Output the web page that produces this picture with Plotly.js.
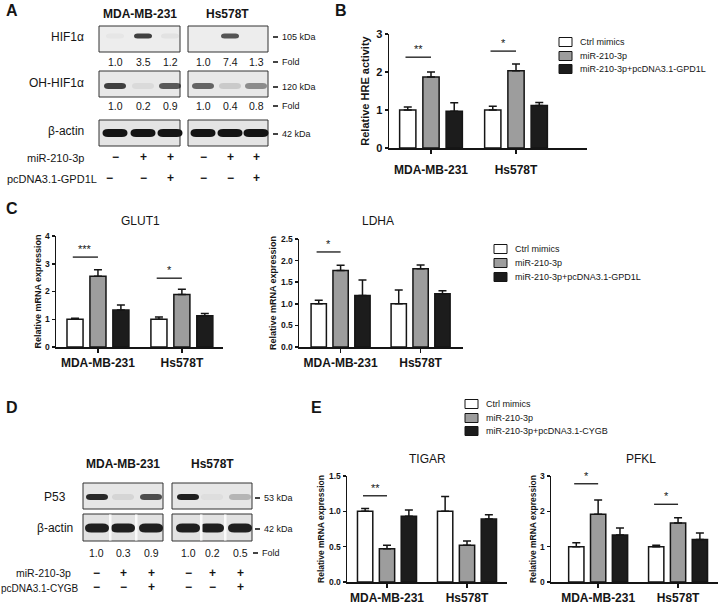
<!DOCTYPE html>
<html><head><meta charset="utf-8">
<script src="https://cdn.plot.ly/plotly-3.0.1.min.js"></script>
<style>html,body{margin:0;padding:0;background:#fff}#chart{width:718px;height:607px}</style>
</head><body><div id="chart"></div>
<script>
// ---------- data ----------
const cellLines = ['MDA-MB-231', 'Hs578T'];
const groupsGPD1L = ['Ctrl mimics', 'miR-210-3p', 'miR-210-3p+pcDNA3.1-GPD1L'];
const groupsCYGB = ['Ctrl mimics', 'miR-210-3p', 'miR-210-3p+pcDNA3.1-CYGB'];

// B: relative HRE activity  [MDA-MB-231, Hs578T]
const hreCtrl = [1.00, 1.00], hreCtrlErr = [0.08, 0.10];
const hreMiR  = [1.87, 2.03], hreMiRErr  = [0.13, 0.18];
const hreRes  = [0.97, 1.12], hreResErr  = [0.22, 0.08];
const hreSigCat = [0, 1], hreSigLevel = [2.39, 2.55], hreSigText = ['**', '*'];

// C: GLUT1
const glutCtrl = [1.00, 1.00], glutCtrlErr = [0.04, 0.08];
const glutMiR  = [2.55, 1.89], glutMiRErr  = [0.23, 0.19];
const glutRes  = [1.33, 1.13], glutResErr  = [0.18, 0.08];
const glutSigCat = [0, 1], glutSigLevel = [3.24, 2.48], glutSigText = ['***', '*'];

// C: LDHA
const ldhaCtrl = [1.00, 1.00], ldhaCtrlErr = [0.08, 0.32];
const ldhaMiR  = [1.77, 1.81], ldhaMiRErr  = [0.12, 0.09];
const ldhaRes  = [1.19, 1.23], ldhaResErr  = [0.36, 0.07];
const ldhaSigCat = [0], ldhaSigLevel = [2.2], ldhaSigText = ['*'];

// E: TIGAR
const tigCtrl = [1.00, 1.00], tigCtrlErr = [0.04, 0.21];
const tigMiR  = [0.47, 0.52], tigMiRErr  = [0.05, 0.06];
const tigRes  = [0.93, 0.89], tigResErr  = [0.09, 0.06];
const tigSigCat = [0], tigSigLevel = [1.22], tigSigText = ['**'];

// E: PFKL
const pfkCtrl = [1.00, 1.00], pfkCtrlErr = [0.11, 0.04];
const pfkMiR  = [1.92, 1.67], pfkMiRErr  = [0.40, 0.15];
const pfkRes  = [1.33, 1.20], pfkResErr  = [0.20, 0.19];
const pfkSigCat = [0, 1], pfkSigLevel = [2.78, 2.2], pfkSigText = ['*', '*'];

// Western blot quantification (fold) per cell line, 3 lanes each
const hifFold   = [[1.0, 3.5, 1.2], [1.0, 7.4, 1.3]];
const ohHifFold = [[1.0, 0.2, 0.9], [1.0, 0.4, 0.8]];
const p53Fold   = [[1.0, 0.3, 0.9], [1.0, 0.2, 0.5]];
const miRSigns   = ['−', '+', '+'];
const gpd1lSigns = ['−', '−', '+'];
const cygbSigns  = ['−', '−', '+'];
const markersA = ['105 kDa', '120 kDa', '42 kDa'];
const markersD = ['53 kDa', '42 kDa'];

// ---------- helpers ----------
const W = 718, H = 607;
const F = 'Arial, "Liberation Sans", Helvetica, sans-serif';
const INK = '#151515';
const fillColors = ['#ffffff', '#9d9d9d', '#1c1c1c'];
const px = x => x / W, py = y => 1 - y / H;
const ann = [], shp = [];

function text(x, y, t, o = {}) {
  ann.push({
    xref: 'paper', yref: 'paper', x: px(x), y: py(y), text: t, showarrow: false,
    xanchor: o.xanchor || 'center', yanchor: o.yanchor || 'middle',
    font: { family: F, size: o.size || 11, color: o.color || INK, weight: o.weight || 'normal' }
  });
}
function rect(x0, y0, x1, y1, fill, lineColor, lw) {
  shp.push({ type: 'rect', xref: 'paper', yref: 'paper', x0: px(x0), x1: px(x1), y0: py(y1), y1: py(y0),
    fillcolor: fill, line: { color: lineColor || fill, width: lw === undefined ? 1 : lw }, layer: 'above' });
}
function band(cx, cy, w, h, op) {
  const x0 = px(cx - w / 2), x1 = px(cx + w / 2), r = px(h * 0.7);
  const yt = py(cy - h / 2), yb = py(cy + h / 2), ym = py(cy);
  const path = `M${x0},${ym} Q${x0},${yt} ${x0 + r},${yt} L${x1 - r},${yt} Q${x1},${yt} ${x1},${ym} ` +
               `Q${x1},${yb} ${x1 - r},${yb} L${x0 + r},${yb} Q${x0},${yb} ${x0},${ym} Z`;
  shp.push({ type: 'path', xref: 'paper', yref: 'paper', path, fillcolor: `rgba(20,20,20,${op.toFixed(3)})`,
    line: { width: 0 }, layer: 'above' });
}
function marker(x, y, label) {
  shp.push({ type: 'line', xref: 'paper', yref: 'paper', x0: px(x), x1: px(x + 5), y0: py(y), y1: py(y),
    line: { color: INK, width: 1.6 }, layer: 'above' });
  text(x + 7, y, label, { xanchor: 'left', size: 9 });
}
function legendBlock(x, ys, labels) {
  labels.forEach((lab, i) => {
    rect(x, ys[i] - 4.5, x + 13, ys[i] + 4.5, fillColors[i], INK, 1);
    text(x + 19, ys[i], lab, { xanchor: 'left', size: 9 });
  });
}

// ---------- bar charts ----------
const charts = [
  { ax: 'x', ay: 'y', xd: [389, 587], yd: [148, 34], xr: [-0.494, 1.835], yr: [0, 3], dt: 1, fmt: 'd', tf: 11,
    title: 'Relative HRE activity', titf: 11, so: 4, std: 6,
    vals: [hreCtrl, hreMiR, hreRes], errs: [hreCtrlErr, hreMiRErr, hreResErr],
    sc: hreSigCat, sl: hreSigLevel, st: hreSigText },
  { ax: 'x2', ay: 'y2', xd: [56, 223], yd: [347, 236], xr: [-0.5, 1.49], yr: [0, 4], dt: 1, fmt: 'd', tf: 8.5,
    title: 'Relative mRNA expression', titf: 9, so: 2, std: 0,
    vals: [glutCtrl, glutMiR, glutRes], errs: [glutCtrlErr, glutMiRErr, glutResErr],
    sc: glutSigCat, sl: glutSigLevel, st: glutSigText },
  { ax: 'x3', ay: 'y3', xd: [299, 463], yd: [347, 239], xr: [-0.52, 1.53], yr: [0, 2.5], dt: 0.5, fmt: '.1f', tf: 8.5,
    title: 'Relative mRNA expression', titf: 9, so: 3, std: 0,
    vals: [ldhaCtrl, ldhaMiR, ldhaRes], errs: [ldhaCtrlErr, ldhaMiRErr, ldhaResErr],
    sc: ldhaSigCat, sl: ldhaSigLevel, st: ldhaSigText },
  { ax: 'x4', ay: 'y4', xd: [347, 507], yd: [582, 476], xr: [-0.5, 1.5], yr: [0, 1.5], dt: 0.5, fmt: '.1f', tf: 8.5,
    title: 'Relative mRNA expression', titf: 8.5, so: 3, std: 0,
    vals: [tigCtrl, tigMiR, tigRes], errs: [tigCtrlErr, tigMiRErr, tigResErr],
    sc: tigSigCat, sl: tigSigLevel, st: tigSigText },
  { ax: 'x5', ay: 'y5', xd: [551, 718], yd: [582, 476], xr: [-0.59, 1.5], yr: [0, 3], dt: 1, fmt: 'd', tf: 8.5,
    title: 'Relative mRNA expression', titf: 8.5, so: 2, std: 0,
    vals: [pfkCtrl, pfkMiR, pfkRes], errs: [pfkCtrlErr, pfkMiRErr, pfkResErr],
    sc: pfkSigCat, sl: pfkSigLevel, st: pfkSigText }
];

const traces = [];
const layout = {
  width: W, height: H, margin: { l: 0, r: 0, t: 0, b: 0 }, paper_bgcolor: '#fff', plot_bgcolor: 'rgba(0,0,0,0)',
  showlegend: false, barmode: 'group', bargap: 0.18, bargroupgap: 0.3, font: { family: F, color: INK },
  annotations: ann, shapes: shp
};

charts.forEach(c => {
  const names = c.ax === 'x4' || c.ax === 'x5' ? groupsCYGB : groupsGPD1L;
  c.vals.forEach((v, i) => {
    traces.push({
      type: 'bar', x: cellLines, y: v, name: names[i], xaxis: c.ax, yaxis: c.ay, showlegend: false,
      marker: { color: fillColors[i], line: { color: INK, width: 1.5 } },
      error_y: { type: 'data', symmetric: false, array: c.errs[i], arrayminus: c.errs[i].map(() => 0),
        color: INK, thickness: 1.5, width: 4 },
      hoverinfo: 'skip'
    });
  });
  const xk = 'xaxis' + c.ax.slice(1), yk = 'yaxis' + c.ay.slice(1);
  layout[xk] = {
    domain: [px(c.xd[0]), px(c.xd[1])], range: c.xr, type: 'category', anchor: c.ay,
    showline: true, linecolor: INK, linewidth: 1.5, ticks: 'outside', ticklen: 4, tickwidth: 1.5, tickcolor: INK,
    tickfont: { family: F, size: 12, weight: 'bold', color: INK }, ticklabelstandoff: c.std,
    showgrid: false, zeroline: false, fixedrange: true
  };
  layout[yk] = {
    domain: [py(c.yd[0]), py(c.yd[1])], range: c.yr, anchor: c.ax, dtick: c.dt, tick0: 0, tickformat: c.fmt,
    showline: true, linecolor: INK, linewidth: 1.5, ticks: 'outside', ticklen: 3, tickwidth: 1.5, tickcolor: INK,
    tickfont: { family: F, size: c.tf, weight: 'bold', color: INK },
    title: { text: c.title, font: { family: F, size: c.titf, weight: 'bold', color: INK }, standoff: c.so },
    showgrid: false, zeroline: false, fixedrange: true
  };
  c.sc.forEach((cat, k) => {
    shp.push({ type: 'line', xref: c.ax, yref: c.ay, x0: cat - 0.3, x1: cat, y0: c.sl[k], y1: c.sl[k],
      line: { color: INK, width: 1.3 } });
    ann.push({ xref: c.ax, yref: c.ay, x: cat - 0.15, y: c.sl[k], text: c.st[k], showarrow: false,
      yanchor: 'bottom', xanchor: 'center', font: { family: F, size: 11, color: INK } });
  });
});

// chart titles
text(140, 221, 'GLUT1', { size: 12 });
text(378, 221, 'LDHA', { size: 12 });
text(427, 459, 'TIGAR', { size: 12 });
text(641, 459, 'PFKL', { size: 12 });

// legends
legendBlock(559, [42, 56, 69], groupsGPD1L);
legendBlock(494, [249, 263, 277], groupsGPD1L);
legendBlock(465, [404, 418, 431], groupsCYGB);

// panel letters
text(4, 10, 'A', { size: 16, weight: 'bold', xanchor: 'left' });
text(333, 10, 'B', { size: 16, weight: 'bold', xanchor: 'left' });
text(4, 208, 'C', { size: 16, weight: 'bold', xanchor: 'left' });
text(4, 407, 'D', { size: 16, weight: 'bold', xanchor: 'left' });
text(309, 407, 'E', { size: 16, weight: 'bold', xanchor: 'left' });

// ---------- Western blot panel A ----------
const aBoxes = [[99, 180], [188, 268]];
const aLanes = [[115, 143, 170], [203, 230, 256]];
cellLines.forEach((cl, k) => text((aBoxes[k][0] + aBoxes[k][1]) / 2, 14, cl, { size: 12, weight: 'bold' }));
const aRows = [
  { label: 'HIF1α', y0: 26, y1: 52, by: 36, fold: hifFold, peak: [0.8, 0.7], w: 18, h: 5, fill: '#ededed', ex: 2.6 },
  { label: 'OH-HIF1α', y0: 71, y1: 97, by: 86, fold: ohHifFold, peak: [0.8, 0.62], w: 22, h: 6, fill: '#e8e8e8', ex: 1.6 },
  { label: 'β-actin', y0: 120, y1: 146, by: 133, fold: [[1, 1, 1], [1, 1, 1]], peak: [1, 1], w: 25, h: 8, fill: '#e4e4e4', ex: 1 }
];
aRows.forEach((r, ri) => {
  text(86, (r.y0 + r.y1) / 2 - 1.5, r.label, { size: 12, xanchor: 'right' });
  aBoxes.forEach((b, k) => {
    rect(b[0], r.y0, b[1], r.y1, r.fill, '#333', 1);
    const mx = Math.max(...r.fold[k]);
    aLanes[k].forEach((lx, j) => {
      const op = r.peak[k] * Math.pow(r.fold[k][j] / mx, r.ex);
      if (op > 0.02) band(lx, r.by, r.w, r.h, Math.min(1, op));
    });
  });
  marker(273, r.by + 1, markersA[ri]);
});
[[62, hifFold], [106, ohHifFold]].forEach(([y, fold]) => {
  aLanes.forEach((lanes, k) => lanes.forEach((lx, j) => text(lx, y, fold[k][j].toFixed(1), { size: 10.5 })));
  marker(273, y, 'Fold');
});
text(86, 158, 'miR-210-3p', { size: 11, xanchor: 'right' });
text(99, 179, 'pcDNA3.1-GPD1L', { size: 11, xanchor: 'right' });
aLanes.forEach(lanes => lanes.forEach((lx, j) => {
  text(lx, 157, miRSigns[j], { size: 12, weight: 'bold' });
  text(j === 0 && lx < 150 ? lx - 6 : lx, 178, gpd1lSigns[j], { size: 12, weight: 'bold' });
}));

// ---------- Western blot panel D ----------
const dBoxes = [[83, 163], [172, 252]];
const dLanes = [[97, 123, 151], [188, 212, 240]];
cellLines.forEach((cl, k) => text((dBoxes[k][0] + dBoxes[k][1]) / 2, 464, cl, { size: 12, weight: 'bold' }));
const dRows = [
  { label: 'P53', y0: 483, y1: 509, by: 497, fold: p53Fold, peak: [0.9, 0.95], w: 22, h: 6, fill: '#e6e6e6', ex: 2 },
  { label: 'β-actin', y0: 514, y1: 541, by: 528, fold: [[1, 1, 1], [1, 1, 1]], peak: [0.95, 0.95], w: 24, h: 9, fill: '#e2e2e2', ex: 1 }
];
dRows.forEach((r, ri) => {
  text(55, r.by, r.label, { size: 12 });
  dBoxes.forEach((b, k) => {
    rect(b[0], r.y0, b[1], r.y1, r.fill, '#333', 1);
    const mx = Math.max(...r.fold[k]);
    dLanes[k].forEach((lx, j) => {
      const op = r.peak[k] * Math.pow(r.fold[k][j] / mx, r.ex);
      band(lx, r.by, r.w, r.h, Math.min(1, op));
    });
    if (ri === 1) {
      rect(dLanes[k][0] + 12, r.y0 + 0.5, dLanes[k][0] + 14.5, r.y1 - 0.5, '#fafafa', '#fafafa', 0);
      rect(dLanes[k][1] + 12, r.y0 + 0.5, dLanes[k][1] + 14.5, r.y1 - 0.5, '#fafafa', '#fafafa', 0);
    }
  });
  marker(255, r.by + 1, markersD[ri]);
});
dLanes.forEach((lanes, k) => lanes.forEach((lx, j) => text(lx, 553, p53Fold[k][j].toFixed(1), { size: 10.5 })));
marker(253, 553, 'Fold');
text(73, 573, 'miR-210-3p', { size: 10.5, xanchor: 'right' });
text(81, 588, 'pcDNA3.1-CYGB', { size: 10, xanchor: 'right' });
dLanes.forEach(lanes => lanes.forEach((lx, j) => {
  text(lx, 573, miRSigns[j], { size: 12, weight: 'bold' });
  text(lx, 587, cygbSigns[j], { size: 12, weight: 'bold' });
}));

Plotly.newPlot('chart', traces, layout, { staticPlot: true, displayModeBar: false });
</script>
</body></html>
